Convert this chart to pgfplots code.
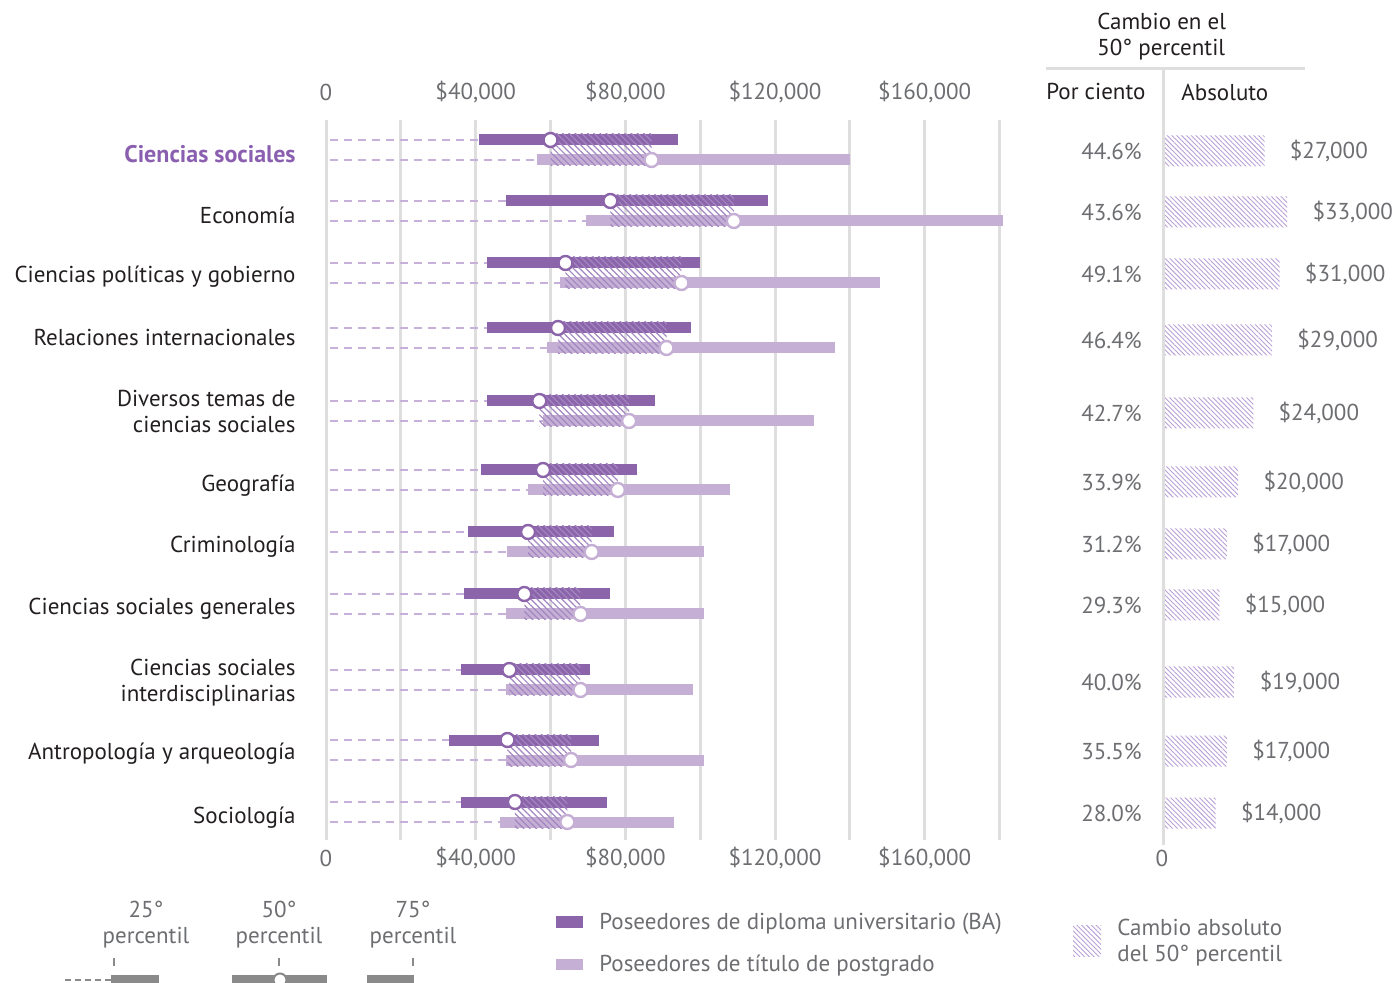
\documentclass[border=0pt]{standalone}
\usepackage{fontspec}
\setmainfont{PT Sans}
\usepackage{pgfplots}
\pgfplotsset{compat=1.18}
\usepackage{pgfplotstable}
\usetikzlibrary{patterns.meta}

\definecolor{ba}{HTML}{8C64AA}
\definecolor{pg}{HTML}{C6AFD4}
\definecolor{dashc}{HTML}{C7B1DA}
\definecolor{hatchc}{HTML}{A286C2}
\definecolor{hatchr}{HTML}{B9A0D6}
\definecolor{gridc}{HTML}{DEDEDE}
\definecolor{txt}{HTML}{231F20}
\definecolor{tgray}{HTML}{6D6E71}
\definecolor{cspurple}{HTML}{8B5FB0}
\definecolor{legray}{HTML}{8A8A8A}

\newcommand{\mf}{\fontsize{11.5}{13}\selectfont}
\tikzset{tl/.style={font=\mf, text=tgray}}

\pgfplotstableread{
y s1 m1 e1 s2 m2 e2
140 41000 60000 94000 56500 87000 140000
201 48000 76000 118000 69500 109000 181000
263 43000 64000 100000 62500 95000 148000
328 43000 62000 97500 59000 91000 136000
401 43000 57000 88000 58000 81000 130500
470 41500 58000 83000 54000 78000 108000
532 38000 54000 77000 48500 71000 101000
594 37000 53000 76000 48000 68000 101000
670 36000 49000 70500 48000 68000 98000
740 33000 48500 73000 48000 65500 101000
802 36000 50500 75000 46500 64500 93000
}\bars

\pgfplotstableread{
y abs lab pct
151 27000 \$27,000 44.6\%
212 33000 \$33,000 43.6\%
274 31000 \$31,000 49.1\%
340 29000 \$29,000 46.4\%
413 24000 \$24,000 42.7\%
482 20000 \$20,000 33.9\%
544 17000 \$17,000 31.2\%
605 15000 \$15,000 29.3\%
682 19000 \$19,000 40.0\%
751 17000 \$17,000 35.5\%
813 14000 \$14,000 28.0\%
}\change

\begin{document}
\begin{tikzpicture}[x=0.5pt,y=0.5pt]
\path (0,0) rectangle (1396,983);

% ---------------- main axis ----------------
\begin{axis}[
  at={(163pt,71.5pt)}, anchor=south west,
  scale only axis, width=340.5pt, height=360pt,
  xmin=0, xmax=182000, ymin=120, ymax=840, y dir=reverse,
  axis line style={draw=none},
  xtick={0,20000,...,180000}, xticklabels={},
  xmajorgrids, grid style={draw=gridc, line width=1.5pt},
  major tick length=0pt,
  scaled x ticks=false,
  ytick={151,212,274,335,409,483,544,606,680,751,815},
  yticklabels={{\fontsize{12}{13}\selectfont\textbf{\color{cspurple}Ciencias sociales}},Economía,Ciencias políticas y gobierno,Relaciones internacionales,{Diversos temas de\\ciencias sociales},Geografía,Criminología,Ciencias sociales generales,{Ciencias sociales\\interdisciplinarias},Antropología y arqueología,Sociología},
  yticklabel style={align=right, font=\mf, text=txt, inner sep=0pt, xshift=-15pt, yshift=-1.5pt},
  clip=false,
  hatchstyle/.style={draw=none, pattern={Lines[angle=-45,distance=2.2pt,line width=0.6pt]}, pattern color=hatchc},
]
% dashed leaders
\addplot[dashc, line width=1pt, dash pattern=on 4pt off 3pt, quiver={u=\thisrow{s1}-1000, v=0}] table[x expr=1000, y=y] {\bars};
\addplot[dashc, line width=1pt, dash pattern=on 4pt off 3pt, quiver={u=\thisrow{s2}-1000, v=0}] table[x expr=1000, y expr=\thisrow{y}+20] {\bars};
% bars
\addplot[ba, line width=5.5pt, quiver={u=\thisrow{e1}-\thisrow{s1}, v=0}] table[x=s1, y=y] {\bars};
\addplot[pg, line width=5.5pt, quiver={u=\thisrow{e2}-\thisrow{s2}, v=0}] table[x=s2, y expr=\thisrow{y}+20] {\bars};
% hatched change regions (BA median to postgraduate median)
\addplot[hatchstyle] coordinates {(60000,134)(87000,134)(87000,166)(60000,166)};
\addplot[hatchstyle] coordinates {(76000,195)(109000,195)(109000,227)(76000,227)};
\addplot[hatchstyle] coordinates {(64000,257)(95000,257)(95000,289)(64000,289)};
\addplot[hatchstyle] coordinates {(62000,322)(91000,322)(91000,354)(62000,354)};
\addplot[hatchstyle] coordinates {(57000,395)(81000,395)(81000,427)(57000,427)};
\addplot[hatchstyle] coordinates {(58000,464)(78000,464)(78000,496)(58000,496)};
\addplot[hatchstyle] coordinates {(54000,526)(71000,526)(71000,558)(54000,558)};
\addplot[hatchstyle] coordinates {(53000,588)(68000,588)(68000,620)(53000,620)};
\addplot[hatchstyle] coordinates {(49000,664)(68000,664)(68000,696)(49000,696)};
\addplot[hatchstyle] coordinates {(48500,734)(65500,734)(65500,766)(48500,766)};
\addplot[hatchstyle] coordinates {(50500,796)(64500,796)(64500,828)(50500,828)};
% medians
\addplot[only marks, mark=*, mark size=3.5pt, mark options={fill=white, draw=ba, line width=1.2pt}] table[x=m1, y=y] {\bars};
\addplot[only marks, mark=*, mark size=3.5pt, mark options={fill=white, draw=pg, line width=1.2pt}] table[x=m2, y expr=\thisrow{y}+20] {\bars};
% tick labels top and bottom
\node[tl] at (axis cs:0,92) {0};
\node[tl] at (axis cs:40000,92) {\$40,000};
\node[tl] at (axis cs:80000,92) {\$80,000};
\node[tl] at (axis cs:120000,92) {\$120,000};
\node[tl] at (axis cs:160000,92) {\$160,000};
\node[tl] at (axis cs:0,858) {0};
\node[tl] at (axis cs:40000,858) {\$40,000};
\node[tl] at (axis cs:80000,858) {\$80,000};
\node[tl] at (axis cs:120000,858) {\$120,000};
\node[tl] at (axis cs:160000,858) {\$160,000};
\end{axis}

% ---------------- right panel ----------------
\begin{axis}[
  at={(581.5pt,71.5pt)}, anchor=south west,
  scale only axis, width=75.2pt, height=360pt,
  xmin=0, xmax=40000, ymin=120, ymax=840, y dir=reverse,
  hide axis, clip=false,
]
\addplot[xbar, bar width=15.5pt, draw=none,
  pattern={Lines[angle=-45,distance=1.7pt,line width=0.45pt]}, pattern color=hatchr,
  nodes near coords, point meta=explicit symbolic,
  nodes near coords style={font=\mf, text=tgray, anchor=west, inner sep=0pt, xshift=12.5pt}]
  table[x=abs, y=y, meta=lab] {\change};
\addplot[draw=none, nodes near coords, point meta=explicit symbolic,
  nodes near coords style={font=\mf, text=tgray, anchor=east, inner sep=0pt, xshift=-10.5pt, yshift=0pt}]
  table[x expr=0, y=y, meta=pct] {\change};
\node[tl] at (axis cs:-300,858) {0};
\end{axis}

% right panel frame lines
\draw[gridc, line width=1.5pt] (1163,913) -- (1163,138);
\draw[gridc, line width=1.5pt] (1046,914) -- (1305,914);
\node[font=\mf, text=txt, anchor=west, align=left, inner sep=0pt] at (1097,946) {Cambio en el\\50° percentil};
\node[font=\mf, text=txt, anchor=west, inner sep=0pt] at (1046,891) {Por ciento};
\node[font=\mf, text=txt, anchor=west, inner sep=0pt] at (1181,891) {Absoluto};

% percentile key
\node[tl, align=center] at (146,58) {25°\\percentil};
\node[tl, align=center] at (279,58) {50°\\percentil};
\node[tl, align=center] at (413,58) {75°\\percentil};
\draw[legray, line width=0.6pt] (114,25) -- (114,17);
\draw[legray, line width=0.6pt] (279,25) -- (279,17);
\draw[legray, line width=0.6pt] (413,25) -- (413,17);
\begin{scope}
\clip (0,0) rectangle (1396,983);
\draw[legray, line width=1pt, dash pattern=on 3pt off 2pt] (65,3) -- (111,3);
\fill[legray] (111,0) rectangle (159,8);
\fill[legray] (232,0) rectangle (327,8);
\fill[legray] (367,0) rectangle (414,8);
\draw[legray, fill=white, line width=1pt] (280,3) circle (6.5);
\end{scope}

% legend
\fill[ba] (556,55) rectangle (583,67);
\node[tl, anchor=west, inner sep=0pt] at (599,59) {Poseedores de diploma universitario (BA)};
\fill[pg] (556,13) rectangle (583,24);
\node[tl, anchor=west, inner sep=0pt] at (599,17) {Poseedores de título de postgrado};
\path[pattern={Lines[angle=-45,distance=1.7pt,line width=0.45pt]}, pattern color=hatchr] (1073,26) rectangle (1101,57);
\node[tl, anchor=west, align=left, inner sep=0pt] at (1117,40) {Cambio absoluto\\del 50° percentil};
\end{tikzpicture}
\end{document}
